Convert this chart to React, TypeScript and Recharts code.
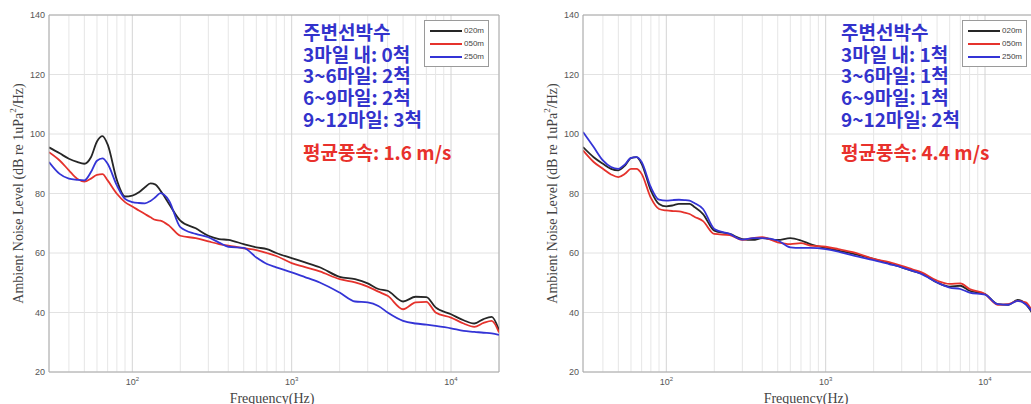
import React from 'react'
import { LineChart, Line, XAxis, YAxis, CartesianGrid, ReferenceLine, Legend } from 'recharts'

// frequency points (Hz)
const FREQS = [
  30, 35, 40, 45, 50, 55, 60, 65, 70, 80, 90, 100, 110, 120, 130, 140, 150, 170, 200, 250, 300, 350, 400, 500, 600,
  700, 800, 1000, 1200, 1500, 2000, 2500, 3000, 3500, 4000, 5000, 6000, 7000, 8000, 10000, 12000, 14000, 16000,
  18000, 20000,
]

// left panel (평균풍속 1.6 m/s)
const LEFT_020 = [
  95.5, 93.5, 91.7, 90.6, 90.0, 92.2, 97.5, 99.3, 96.5, 84.5, 79.0, 79.3, 80.4, 82.1, 83.4, 83.0, 81.0, 76.5, 70.9,
  68.3, 65.8, 64.7, 64.4, 63.0, 61.9, 61.3, 60.0, 58.3, 56.9, 55.2, 52.0, 51.2, 49.8, 47.9, 47.3, 43.7, 45.3, 45.2,
  41.7, 39.4, 37.4, 36.3, 37.8, 38.5, 34.0,
]
const LEFT_050 = [
  93.9, 91.1, 87.8, 85.0, 84.0, 85.0, 86.3, 86.5, 84.4, 79.9, 77.1, 75.6, 74.3, 73.1, 72.0, 71.1, 70.9, 69.2, 65.8,
  65.0, 63.9, 63.0, 62.5, 61.6, 61.0, 60.0, 59.0, 56.6, 55.3, 53.8, 51.2, 50.1, 48.7, 47.0, 45.6, 41.1, 43.4, 43.6,
  40.0, 38.3, 36.3, 35.2, 36.5, 37.2, 33.3,
]
const LEFT_250 = [
  90.6, 86.6, 85.0, 84.6, 84.4, 87.2, 91.0, 91.8, 90.0, 82.7, 78.2, 77.1, 76.8, 76.7, 77.5, 78.8, 80.1, 77.6, 68.7,
  66.4, 65.3, 63.5, 62.1, 61.7, 58.5, 56.3, 55.2, 53.5, 52.0, 50.1, 46.7, 43.7, 43.4, 42.2, 40.0, 37.2, 36.3, 35.9,
  35.5, 34.7, 33.8, 33.5, 33.2, 33.0, 32.5,
]

// right panel (평균풍속 4.4 m/s)
const RIGHT_020 = [
  95.6, 92.2, 90.0, 88.3, 87.8, 89.4, 91.9, 92.2, 90.0, 81.0, 76.5, 75.7, 76.0, 76.5, 76.5, 76.5, 75.5, 73.1, 67.5,
  66.4, 64.7, 64.4, 65.0, 64.4, 65.0, 64.2, 63.0, 61.7, 60.8, 59.7, 58.0, 56.5, 55.2, 54.0, 53.1, 50.1, 48.7, 49.0,
  47.3, 46.2, 42.8, 42.6, 44.2, 42.8, 39.4,
]
const RIGHT_050 = [
  94.5, 90.6, 88.3, 86.4, 85.5, 86.6, 88.3, 88.3, 86.6, 78.5, 74.8, 74.3, 74.1, 74.0, 73.6, 73.1, 72.2, 70.7, 66.4,
  66.0, 64.4, 65.0, 65.3, 63.6, 63.0, 63.3, 62.5, 62.1, 61.3, 60.2, 58.0, 56.9, 55.7, 54.5, 53.5, 50.7, 49.6, 49.8,
  47.9, 46.2, 42.6, 42.8, 43.9, 43.4, 40.0,
]
const RIGHT_250 = [
  100.7, 95.6, 91.1, 88.9, 88.3, 89.8, 92.0, 92.2, 90.6, 82.1, 77.9, 77.6, 77.8, 77.9, 77.8, 77.6, 76.8, 74.8, 68.1,
  66.4, 64.5, 65.0, 65.0, 64.2, 61.9, 61.7, 61.7, 61.3, 60.5, 59.1, 57.6, 56.3, 55.2, 54.0, 52.9, 50.1, 48.4, 47.9,
  46.7, 46.0, 42.8, 42.6, 43.9, 42.8, 40.0,
]

const X_TICKS = [100, 1000, 10000]
const Y_TICKS = [20, 40, 60, 80, 100, 120, 140]
const MINOR_GRID = [
  30, 40, 50, 60, 70, 80, 90, 200, 300, 400, 500, 600, 700, 800, 900, 2000, 3000, 4000, 5000, 6000, 7000, 8000, 9000,
  20000,
]

const LEFT_NOTES = ['주변선박수', '3마일 내: 0척', '3~6마일: 2척', '6~9마일: 2척', '9~12마일: 3척']
const RIGHT_NOTES = ['주변선박수', '3마일 내: 1척', '3~6마일: 1척', '6~9마일: 1척', '9~12마일: 2척']
const LEFT_WIND = '평균풍속: 1.6 m/s'
const RIGHT_WIND = '평균풍속: 4.4 m/s'

const SERIES = [
  { key: 'd020', name: '020m', color: '#262626' },
  { key: 'd050', name: '050m', color: '#e5322c' },
  { key: 'd250', name: '250m', color: '#3434d6' },
]

const buildRows = (a: number[], b: number[], c: number[]) =>
  FREQS.map((f, i) => ({ f, d020: a[i], d050: b[i], d250: c[i] }))

const SANS = '"Liberation Sans", Arial, sans-serif'
const SERIF = '"Liberation Serif", "Times New Roman", serif'

function PowTick({ x, y, payload }: any) {
  const exp = Math.round(Math.log10(payload.value))
  return (
    <text x={x} y={y} dy={9} textAnchor="middle" fontSize={9} fill="#555" fontFamily={SANS}>
      10
      <tspan dy={-4} fontSize={6}>
        {exp}
      </tspan>
    </text>
  )
}

function YTitle({ viewBox }: any) {
  const cx = viewBox.x + 18
  const cy = viewBox.y + viewBox.height / 2
  return (
    <text
      x={cx}
      y={cy}
      transform={`rotate(-90 ${cx} ${cy})`}
      textAnchor="middle"
      dominantBaseline="central"
      fontSize={14}
      fill="#444"
      fontFamily={SERIF}
    >
      Ambient Noise Level (dB re 1uPa
      <tspan dy={-5} fontSize={9}>
        2
      </tspan>
      <tspan dy={5}>/Hz)</tspan>
    </text>
  )
}

function XTitle({ viewBox }: any) {
  return (
    <text
      x={viewBox.x + viewBox.width / 2 - 2}
      y={viewBox.y + 31}
      textAnchor="middle"
      fontSize={14}
      fill="#444"
      fontFamily={SERIF}
    >
      Frequency(Hz)
    </text>
  )
}

function LegendBox({ payload }: any) {
  return (
    <div
      style={{
        border: '1px solid #9a9a9a',
        background: '#fff',
        padding: '3px 4px 3px 5px',
        fontFamily: SANS,
        fontSize: 8,
        color: '#444',
        lineHeight: '13px',
      }}
    >
      {(payload || []).map((p: any) => (
        <div key={p.value} style={{ display: 'flex', alignItems: 'center' }}>
          <span style={{ display: 'inline-block', width: 32, height: 2, background: p.color, marginRight: 2 }} />
          <span>{p.value}</span>
        </div>
      ))}
    </div>
  )
}

function Panel({
  rows,
  notes,
  wind,
  noteLeft,
  legendLeft,
}: {
  rows: any[]
  notes: string[]
  wind: string
  noteLeft: number
  legendLeft: number
}) {
  return (
    <div style={{ position: 'relative', width: 534, height: 404, flex: '0 0 534px' }}>
      <LineChart width={534} height={404} data={rows} margin={{ top: 15, right: 35, bottom: 2, left: 0 }}>
        <CartesianGrid vertical={false} stroke="#e2e2e2" />
        {MINOR_GRID.map((v) => (
          <ReferenceLine key={v} x={v} stroke="#e6e6e6" />
        ))}
        {X_TICKS.map((v) => (
          <ReferenceLine key={'M' + v} x={v} stroke="#d4d4d4" />
        ))}
        <ReferenceLine y={140} stroke="#a8a8a8" />
        <ReferenceLine x={20000} stroke="#a8a8a8" />
        <XAxis
          dataKey="f"
          type="number"
          scale="log"
          domain={[30, 20000]}
          allowDataOverflow
          ticks={X_TICKS}
          tick={<PowTick />}
          tickLine={false}
          tickSize={0}
          tickMargin={4}
          axisLine={{ stroke: '#a8a8a8' }}
          height={30}
          label={{ content: <XTitle /> }}
        />
        <YAxis
          type="number"
          domain={[20, 140]}
          ticks={Y_TICKS}
          interval={0}
          width={49}
          tickLine={false}
          tickSize={0}
          tickMargin={4}
          axisLine={{ stroke: '#a8a8a8' }}
          tick={{ fontSize: 9, fill: '#555', fontFamily: SANS }}
          label={{ content: <YTitle /> }}
        />
        <Legend
          layout="vertical"
          align="center"
          verticalAlign="middle"
          content={<LegendBox />}
          wrapperStyle={{ left: legendLeft, top: 20, width: 'auto', height: 'auto' }}
        />
        {SERIES.map((s) => (
          <Line
            key={s.key}
            dataKey={s.key}
            name={s.name}
            stroke={s.color}
            strokeWidth={1.8}
            type="monotone"
            dot={false}
            isAnimationActive={false}
          />
        ))}
      </LineChart>
      <div
        style={{
          position: 'absolute',
          left: noteLeft,
          top: 21,
          fontFamily: '"Noto Sans CJK KR", sans-serif',
          fontWeight: 700,
          fontSize: 19,
          lineHeight: '21.7px',
          whiteSpace: 'nowrap',
        }}
      >
        {notes.map((n) => (
          <div key={n} style={{ color: '#3333cc' }}>
            {n}
          </div>
        ))}
        <div style={{ color: '#e8312c', marginTop: 11 }}>{wind}</div>
      </div>
    </div>
  )
}

export default function App() {
  const leftRows = buildRows(LEFT_020, LEFT_050, LEFT_250)
  const rightRows = buildRows(RIGHT_020, RIGHT_050, RIGHT_250)
  return (
    <div
      style={{
        position: 'absolute',
        left: 0,
        top: 0,
        width: 1031,
        height: 404,
        overflow: 'hidden',
        background: '#fff',
        display: 'flex',
      }}
    >
      <Panel rows={leftRows} notes={LEFT_NOTES} wind={LEFT_WIND} noteLeft={303} legendLeft={424} />
      <Panel rows={rightRows} notes={RIGHT_NOTES} wind={RIGHT_WIND} noteLeft={307} legendLeft={428} />
    </div>
  )
}
